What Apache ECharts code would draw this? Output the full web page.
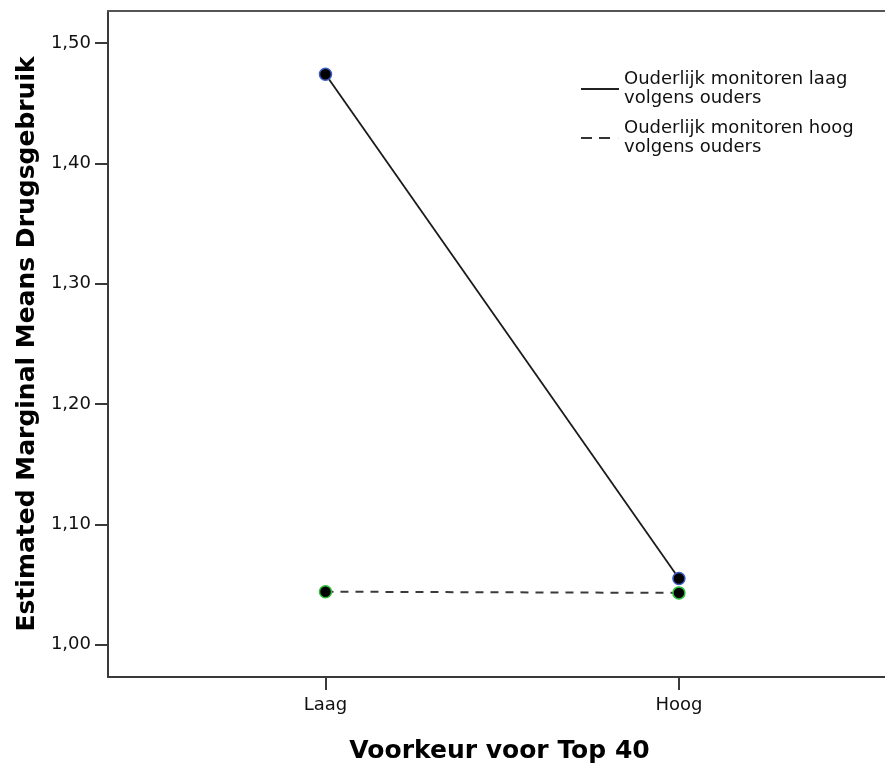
<!DOCTYPE html>
<html>
<head>
<meta charset="utf-8">
<script src="https://cdn.jsdelivr.net/npm/echarts@6/dist/echarts.min.js"></script>
<style>
html,body{margin:0;padding:0;background:#fff;}
#chart{width:885px;height:769px;}
</style>
</head>
<body>
<div id="chart"></div>
<script>
// Data
var categories = ['Laag', 'Hoog'];
var seriesNames = ['Ouderlijk monitoren laag volgens ouders', 'Ouderlijk monitoren hoog volgens ouders'];
var valuesLaag = [1.474, 1.055];   // Ouderlijk monitoren laag
var valuesHoog = [1.044, 1.043];   // Ouderlijk monitoren hoog
var yTicks = [1.00, 1.10, 1.20, 1.30, 1.40, 1.50];

function toPoints(vals) {
  return vals.map(function (v, i) { return [i + 1, v]; });
}

var labelFont = 'DejaVu Sans';
var xMin = 0.3847, xMax = 2.6;
var chart = echarts.init(document.getElementById('chart'));
chart.setOption({
  animation: false,
  backgroundColor: '#ffffff',
  grid: {
    left: 108, top: 11, right: -6, bottom: 92,
    outerBoundsMode: 'none',
    containLabel: false,
    show: false
  },
  legend: {
    orient: 'vertical',
    left: 576, top: 62,
    itemWidth: 38, itemHeight: 2, itemGap: 5,
    symbolKeepAspect: false,
    formatter: function (n) { return n.replace(' volgens', '\nvolgens'); },
    textStyle: { fontFamily: labelFont, fontSize: 18, color: '#111', lineHeight: 19, padding: [6, 0, 0, 0] },
    data: [
      { name: seriesNames[0], icon: 'path://M0,0H38V2H0Z', itemStyle: { color: '#222', borderWidth: 0 } },
      { name: seriesNames[1], icon: 'path://M0,0H11V2H0Z M18,0H29V2H18Z M37.9,0H38V2H37.9Z', itemStyle: { color: '#333', borderWidth: 0 } }
    ]
  },
  xAxis: [{
    type: 'value',
    min: xMin, max: xMax,
    name: 'Voorkeur voor Top 40',
    nameLocation: 'middle',
    nameGap: 62,
    nameTextStyle: { fontFamily: labelFont, fontWeight: 'bold', fontSize: 25, color: '#000' },
    axisLine: { show: true, lineStyle: { color: '#3a3a3a', width: 2 } },
    axisTick: { show: true, length: 13, customValues: [1, 2], lineStyle: { color: '#3a3a3a', width: 2 } },
    axisLabel: {
      customValues: [1, 2], margin: 19,
      fontFamily: labelFont, fontSize: 18, color: '#111',
      formatter: function (v) { return categories[Math.round(v) - 1] || ''; }
    },
    splitLine: { show: false }
  }, {
    type: 'value',
    position: 'top',
    min: xMin, max: xMax,
    axisLine: { show: true, onZero: false, lineStyle: { color: '#555', width: 2 } },
    axisTick: { show: false },
    axisLabel: { show: false },
    splitLine: { show: false }
  }],
  yAxis: {
    type: 'value',
    min: 0.9731, max: 1.5266,
    name: 'Estimated Marginal Means Drugsgebruik',
    nameLocation: 'middle',
    nameRotate: 90,
    nameGap: 62,
    nameTextStyle: { fontFamily: labelFont, fontWeight: 'bold', fontSize: 25, color: '#000' },
    axisLine: { show: true, lineStyle: { color: '#3a3a3a', width: 2 } },
    axisTick: { show: true, length: 13, customValues: yTicks, lineStyle: { color: '#3a3a3a', width: 2 } },
    axisLabel: {
      customValues: yTicks, margin: 17,
      fontFamily: labelFont, fontSize: 18, color: '#111',
      formatter: function (v) { return v.toFixed(2).replace('.', ','); }
    },
    splitLine: { show: false }
  },
  series: [
    {
      name: seriesNames[0],
      type: 'line',
      xAxisIndex: 0,
      data: toPoints(valuesLaag),
      symbol: 'circle', symbolSize: 12,
      lineStyle: { color: '#1a1a1a', width: 1.8, type: 'solid' },
      itemStyle: { color: '#000', borderColor: '#3b5cc4', borderWidth: 1.5 },
      z: 3
    },
    {
      name: seriesNames[1],
      type: 'line',
      xAxisIndex: 0,
      data: toPoints(valuesHoog),
      symbol: 'circle', symbolSize: 12,
      lineStyle: { color: '#3a3a3a', width: 2, type: [8, 7] },
      itemStyle: { color: '#000', borderColor: '#2fbf3a', borderWidth: 1.5 },
      z: 2
    }
  ]
});
</script>
</body>
</html>
